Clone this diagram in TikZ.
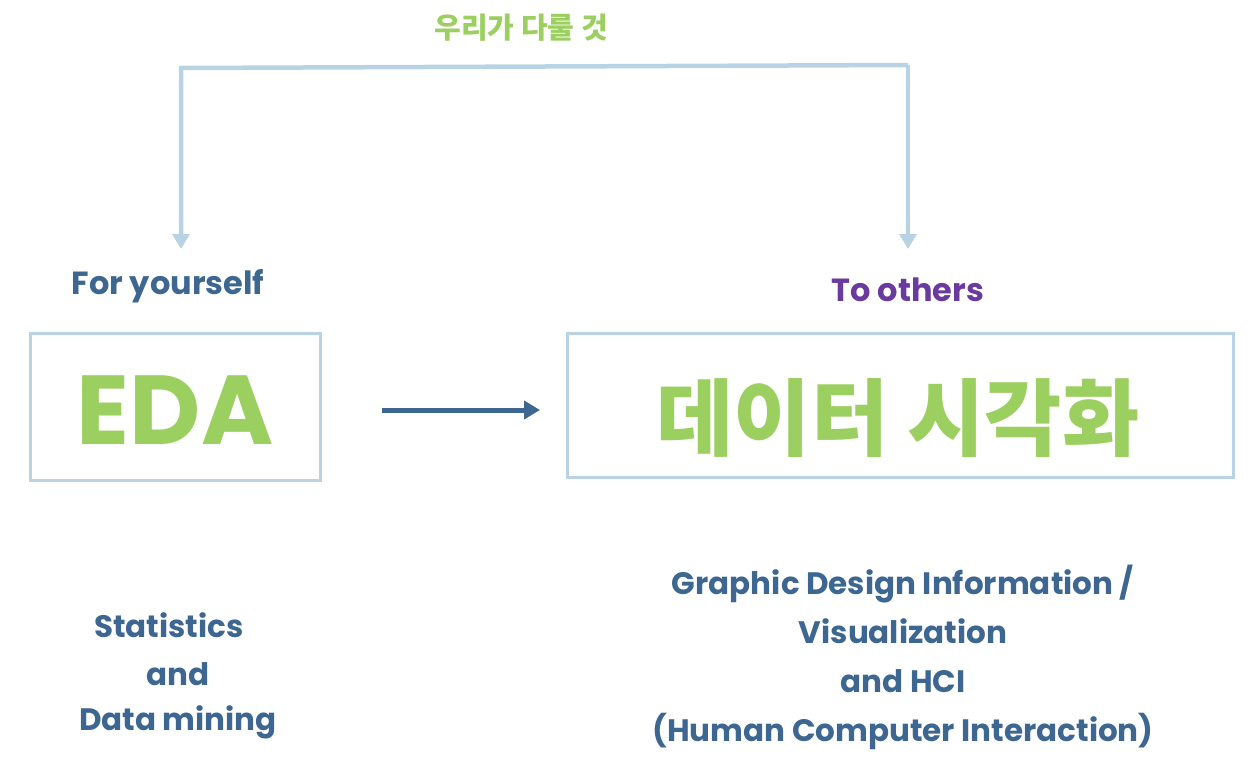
\documentclass[tikz,border=0pt]{standalone}
\usepackage{fontspec}
\setmainfont{Poppins}
\newfontfamily\kor{Noto Sans CJK KR}
\usetikzlibrary{calc,arrows.meta,positioning}
\definecolor{lineblue}{HTML}{B8D4E4}
\definecolor{darkblue}{HTML}{3D6790}
\definecolor{leafgreen}{HTML}{9BCF5F}
\definecolor{plum}{HTML}{6A3A9F}

\begin{document}
\begin{tikzpicture}[x=1pt,y=-1pt,
  boxed/.style={draw=lineblue,line width=3pt,inner sep=0pt},
  tag/.style={font=\fontsize{32}{38}\selectfont\bfseries},
  body/.style={font=\fontsize{31}{49}\selectfont\bfseries,text=darkblue,align=center},
  bluearrow/.style={-{Triangle[length=15pt,width=17pt]},line width=4.5pt,draw=lineblue}]
\useasboundingbox (0,0) rectangle (1250,764);
% the two boxes
\node[boxed,minimum width=290pt,minimum height=147pt] (eda) at (175,406.5) {};
\node[boxed,minimum width=666pt,minimum height=144pt] (vis) at (900,405) {};
\node[text=leafgreen,font=\fontsize{98}{110}\selectfont\bfseries] (edatxt) at (175,410) {EDA};
\node[text=leafgreen,font=\kor\fontsize{84}{90}\selectfont\bfseries] (vistxt) at (898,418) {데이터 시각화};
% labels above the boxes
\node[tag,text=darkblue] (self) at (168,286) {For yourself};
\node[tag,text=plum] (others) at (908,290) {To others};
\node[text=leafgreen,font=\kor\fontsize{29}{32}\selectfont\bfseries] (ours) at (521,28) {우리가 다룰 것};
% top bracket
\coordinate (L) at (181,249);
\coordinate (R) at (908,249);
\coordinate (LT) at (181,68);
\coordinate (RT) at (908,65);
\draw[bluearrow] (RT) -- (LT) -- (L);
\draw[bluearrow] (RT) -- (R);
% middle arrow
\coordinate (A) at (382,410);
\coordinate (B) at (540,410);
\draw[-{Triangle[length=16pt,width=18pt]},line width=5pt,draw=darkblue] (A) -- (B);
% texts below
\node[body] (stat) at (169,625) {Statistics};
\node[body] (and) at (178,674) {and};
\node[body] (mine) at (178,722) {Data mining};
\node[body] (gd) at (903,657) {Graphic Design Information /\\Visualization\\and HCI\\(Human Computer Interaction)};
\end{tikzpicture}
\end{document}
